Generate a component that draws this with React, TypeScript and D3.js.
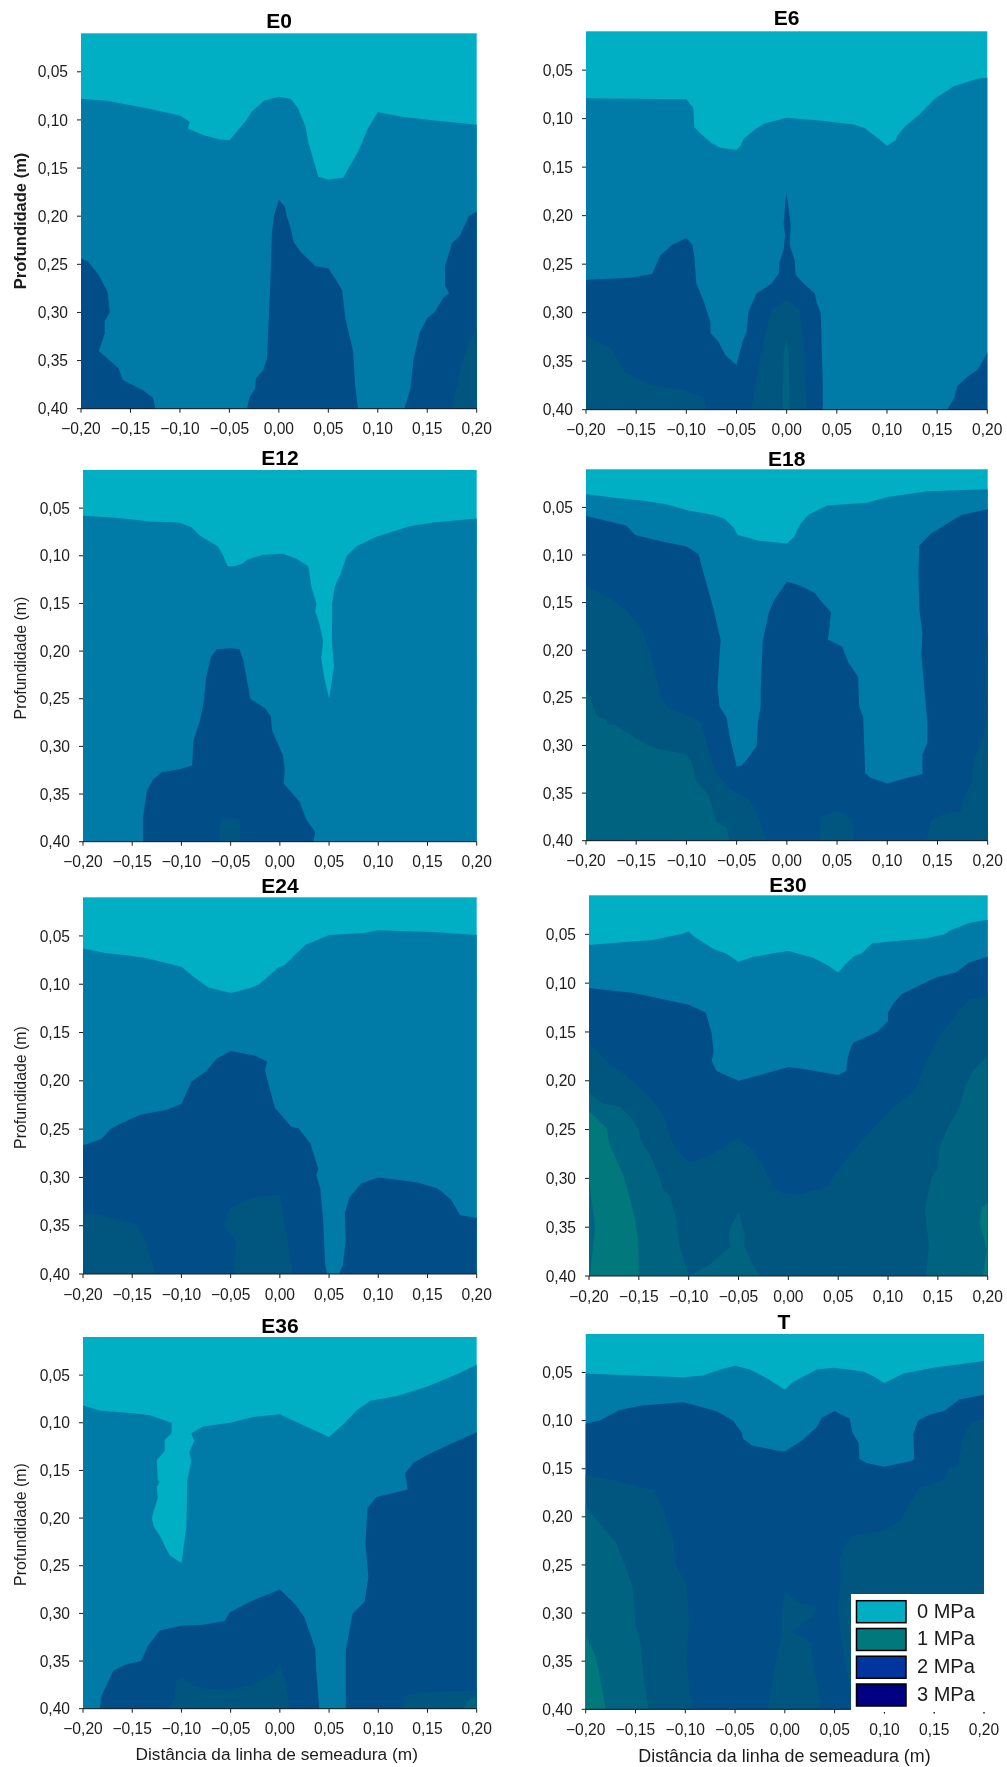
import React from "react";
import * as d3 from "d3";

type P = [number, number];

const xTicks = [-0.2, -0.15, -0.1, -0.05, 0, 0.05, 0.1, 0.15, 0.2];
const yTicks = [0.05, 0.1, 0.15, 0.2, 0.25, 0.3, 0.35, 0.4];
const legendLabels = ["0 MPa", "1 MPa", "2 MPa", "3 MPa"];
const legendColors = ["#00AFC3", "#00787C", "#0035A0", "#000080"];
const levelColors = ["#00AFC3", "#007BA7", "#004D87", "#00567F", "#006480", "#00787C"];

// ---- E0 ----
const e0L1: P[] = [[-.2,.078],[-.174,.08],[-.137,.087],[-.1,.0955],[-.09,.102],[-.092,.109],[-.076,.116],[-.06,.12],[-.05,.121],[-.04,.109],[-.034,.102],[-.027,.091],[-.015,.08],[0,.076],[.012,.078],[.019,.087],[.027,.107],[.03,.124],[.04,.159],[.05,.162],[.065,.16],[.08,.133],[.09,.109],[.1,.092],[.126,.097],[.153,.1],[.2,.105]];
const e0L2a: P[] = [[-.2,.244],[-.193,.247],[-.182,.261],[-.173,.279],[-.172,.289],[-.171,.3],[-.176,.309],[-.176,.322],[-.182,.34],[-.174,.347],[-.162,.358],[-.158,.37],[-.137,.381],[-.127,.389],[-.125,.4]];
const e0L2b: P[] = [[-.032,.4],[-.03,.389],[-.024,.379],[-.023,.368],[-.016,.36],[-.012,.348],[-.009,.28],[-.007,.218],[-.005,.2],[0,.183],[.006,.19],[.008,.2],[.012,.213],[.015,.227],[.022,.237],[.037,.252],[.05,.254],[.057,.265],[.064,.277],[.067,.305],[.075,.34],[.077,.374],[.08,.4]];
const e0L2c: P[] = [[.127,.4],[.133,.379],[.136,.35],[.142,.322],[.15,.306],[.158,.299],[.166,.285],[.172,.28],[.168,.272],[.168,.252],[.175,.228],[.183,.22],[.192,.2],[.2,.195]];
const e0L3: P[] = [[.175,.4],[.183,.36],[.192,.332],[.2,.317]];

// ---- E6 ----
const e6L1: P[] = [[-.2,.079],[-.1,.08],[-.093,.089],[-.092,.109],[-.085,.116],[-.075,.125],[-.066,.13],[-.05,.132],[-.046,.128],[-.043,.121],[-.033,.112],[-.022,.105],[0,.099],[.033,.102],[.067,.106],[.078,.11],[.092,.121],[.1,.128],[.109,.122],[.11,.118],[.118,.108],[.132,.096],[.147,.08],[.166,.067],[.19,.059],[.2,.058]];
const e6L2a: P[] = [[-.2,.266],[-.155,.264],[-.134,.26],[-.126,.241],[-.114,.23],[-.1,.223],[-.094,.23],[-.092,.242],[-.09,.27],[-.082,.29],[-.076,.31],[-.076,.321],[-.068,.33],[-.061,.344],[-.05,.354],[-.044,.33],[-.04,.32],[-.038,.299],[-.03,.28],[-.015,.27],[-.008,.26],[-.007,.248],[-.003,.235],[-.0015,.22],[-.003,.209],[-.001,.182],[0,.178],[.001,.185],[.004,.209],[.003,.23],[.008,.246],[.009,.261],[.017,.27],[.028,.28],[.03,.29],[.034,.3],[.035,.339],[.036,.37],[.036,.4]];
const e6L2b: P[] = [[.16,.4],[.167,.388],[.17,.376],[.18,.366],[.19,.359],[.197,.347],[.2,.341]];
const e6L3a: P[] = [[-.2,.324],[-.176,.335],[-.161,.361],[-.14,.373],[-.103,.38],[-.083,.387],[-.08,.4]];
const e6L3b: P[] = [[-.035,.4],[-.03,.366],[-.023,.328],[-.015,.297],[0,.287],[.013,.297],[.018,.339],[.02,.4]];
const e6L4: P[] = [[-.004,.4],[-.003,.342],[0,.328],[.002,.342],[.003,.4]];

// ---- E12 ----
const e12L1: P[] = [[-.2,.058],[-.166,.06],[-.132,.064],[-.102,.065],[-.09,.07],[-.081,.079],[-.063,.09],[-.058,.099],[-.053,.111],[-.046,.111],[-.038,.108],[-.033,.104],[-.017,.099],[.003,.098],[.017,.103],[.029,.111],[.032,.132],[.037,.15],[.036,.158],[.04,.171],[.044,.19],[.042,.207],[.045,.227],[.05,.25],[.055,.216],[.053,.192],[.053,.15],[.056,.132],[.062,.118],[.068,.1],[.078,.09],[.098,.08],[.132,.069],[.156,.065],[.2,.061]];
const e12L2: P[] = [[-.139,.4],[-.139,.374],[-.135,.346],[-.129,.335],[-.12,.327],[-.102,.324],[-.089,.32],[-.088,.295],[-.081,.272],[-.077,.251],[-.075,.228],[-.07,.206],[-.064,.198],[-.05,.197],[-.041,.198],[-.037,.21],[-.03,.25],[-.015,.26],[-.009,.269],[-.008,.283],[.003,.309],[.005,.323],[.004,.339],[.02,.358],[.027,.377],[.036,.39],[.034,.4]];
const e12L3: P[] = [[-.062,.4],[-.06,.377],[-.051,.375],[-.041,.377],[-.04,.4]];

// ---- E18 ----
const e18L1: P[] = [[-.2,.036],[-.172,.04],[-.142,.043],[-.119,.047],[-.099,.053],[-.073,.058],[-.062,.062],[-.053,.071],[-.049,.079],[-.028,.085],[0,.088],[.007,.081],[.013,.068],[.021,.058],[.04,.048],[.08,.045],[.1,.039],[.14,.033],[.2,.031]];
const e18L2: P[] = [[-.2,.059],[-.16,.069],[-.151,.079],[-.123,.086],[-.1,.091],[-.088,.099],[-.083,.119],[-.073,.157],[-.066,.189],[-.069,.238],[-.067,.259],[-.06,.271],[-.057,.29],[-.05,.322],[-.045,.321],[-.037,.311],[-.03,.3],[-.029,.277],[-.026,.259],[-.026,.241],[-.024,.19],[-.018,.161],[-.013,.148],[0,.128],[.013,.132],[.028,.14],[.033,.147],[.044,.16],[.041,.189],[.055,.196],[.061,.212],[.071,.228],[.072,.259],[.076,.27],[.078,.329],[.083,.334],[.1,.34],[.113,.336],[.135,.33],[.135,.31],[.14,.297],[.14,.276],[.137,.241],[.134,.206],[.135,.182],[.132,.157],[.131,.119],[.132,.09],[.143,.078],[.161,.066],[.174,.058],[.2,.052]];
const e18L3a: P[] = [[-.2,.132],[-.172,.148],[-.157,.161],[-.144,.178],[-.134,.21],[-.126,.248],[-.118,.26],[-.1,.268],[-.085,.276],[-.078,.305],[-.07,.329],[-.055,.347],[-.037,.357],[-.028,.375],[-.02,.4]];
const e18L3b: P[] = [[.032,.4],[.034,.375],[.05,.369],[.065,.376],[.067,.4]];
const e18L3c: P[] = [[.139,.4],[.144,.378],[.159,.371],[.173,.369],[.176,.354],[.184,.338],[.186,.315],[.195,.294],[.199,.266],[.197,.206],[.199,.189],[.2,.186]];
const e18L4: P[] = [[-.2,.24],[-.189,.269],[-.18,.273],[-.178,.278],[-.17,.279],[-.157,.288],[-.138,.3],[-.128,.304],[-.1,.309],[-.094,.32],[-.09,.338],[-.078,.352],[-.07,.38],[-.06,.387],[-.057,.4]];

// ---- E24 ----
const e24L1: P[] = [[-.2,.063],[-.176,.068],[-.155,.07],[-.135,.073],[-.1,.082],[-.088,.092],[-.073,.103],[-.05,.109],[-.03,.104],[-.021,.1],[-.002,.083],[.005,.08],[.015,.07],[.026,.059],[.05,.049],[.085,.047],[.1,.044],[.156,.046],[.2,.049]];
const e24L2a: P[] = [[-.2,.267],[-.181,.26],[-.172,.25],[-.163,.245],[-.142,.235],[-.115,.23],[-.1,.224],[-.09,.201],[-.075,.19],[-.064,.177],[-.05,.169],[-.025,.174],[-.013,.18],[-.015,.189],[-.012,.202],[-.005,.228],[.012,.248],[.019,.249],[.031,.265],[.039,.291],[.037,.298],[.041,.311],[.044,.344],[.046,.389],[.048,.4]];
const e24L2b: P[] = [[.06,.4],[.064,.391],[.067,.365],[.066,.337],[.071,.32],[.083,.306],[.1,.3],[.139,.305],[.159,.311],[.165,.315],[.174,.323],[.183,.339],[.2,.342]];
const e24L3a: P[] = [[-.2,.337],[-.183,.339],[-.146,.348],[-.136,.368],[-.126,.4]];
const e24L3b: P[] = [[-.046,.4],[-.045,.365],[-.057,.35],[-.05,.331],[-.024,.32],[0,.318],[.007,.358],[.013,.4]];

// ---- E30 ----
const e30L1: P[] = [[-.2,.061],[-.188,.06],[-.155,.057],[-.138,.056],[-.108,.05],[-.1,.047],[-.095,.052],[-.075,.065],[-.062,.07],[-.05,.078],[-.035,.073],[-.018,.07],[0,.067],[.025,.074],[.04,.082],[.05,.089],[.057,.081],[.065,.073],[.074,.069],[.084,.059],[.139,.054],[.157,.05],[.162,.046],[.182,.038],[.2,.035]];
const e30L2: P[] = [[-.2,.105],[-.155,.11],[-.1,.122],[-.083,.13],[-.077,.151],[-.075,.17],[-.077,.18],[-.072,.19],[-.05,.2],[-.028,.194],[0,.186],[.015,.188],[.05,.194],[.058,.19],[.059,.18],[.061,.171],[.065,.161],[.089,.15],[.1,.139],[.1,.13],[.106,.12],[.114,.111],[.136,.1],[.149,.094],[.168,.089],[.181,.079],[.2,.073]];
const e30L3: P[] = [[-.2,.161],[-.182,.18],[-.157,.199],[-.138,.218],[-.125,.235],[-.118,.259],[-.112,.271],[-.098,.284],[-.075,.274],[-.062,.266],[-.05,.259],[-.035,.271],[-.025,.288],[-.015,.31],[-.005,.315],[.012,.316],[.04,.308],[.045,.298],[.065,.271],[.082,.252],[.102,.23],[.127,.209],[.132,.195],[.139,.178],[.152,.154],[.176,.122],[.182,.117],[.2,.113]];
const e30L4a: P[] = [[-.2,.212],[-.187,.223],[-.168,.227],[-.158,.238],[-.15,.25],[-.148,.262],[-.137,.279],[-.125,.312],[-.119,.318],[-.112,.343],[-.109,.37],[-.1,.4],[-.08,.389],[-.058,.37],[-.06,.36],[-.058,.35],[-.05,.335],[-.044,.356],[-.044,.37],[-.035,.39],[-.028,.4]];
const e30L4b: P[] = [[.138,.4],[.141,.37],[.137,.332],[.144,.298],[.15,.289],[.152,.267],[.159,.25],[.172,.226],[.177,.206],[.186,.189],[.2,.175]];
const e30L5a: P[] = [[-.2,.231],[-.182,.249],[-.18,.264],[-.165,.298],[-.155,.336],[-.151,.36],[-.15,.4]];
const e30L5b: P[] = [[.2,.325],[.194,.33],[.192,.345],[.199,.373],[.195,.4]];
const e30L4c: P[] = [[-.2,.3],[-.194,.35],[-.199,.4]];

// ---- E36 ----
const e36L1: P[] = [[-.2,.082],[-.183,.087],[-.149,.09],[-.132,.092],[-.11,.1],[-.11,.111],[-.117,.118],[-.117,.13],[-.125,.139],[-.124,.16],[-.122,.162],[-.125,.167],[-.124,.179],[-.128,.192],[-.13,.2],[-.128,.209],[-.121,.22],[-.117,.229],[-.112,.239],[-.1,.247],[-.095,.209],[-.094,.16],[-.09,.14],[-.092,.131],[-.087,.119],[-.09,.111],[-.078,.104],[-.051,.1],[-.027,.094],[0,.091],[.014,.098],[.05,.115],[.065,.101],[.078,.087],[.092,.077],[.119,.072],[.15,.062],[.18,.049],[.2,.039]];
const e36L2a: P[] = [[-.183,.4],[-.181,.386],[-.169,.36],[-.157,.354],[-.141,.35],[-.134,.334],[-.122,.318],[-.1,.313],[-.078,.312],[-.056,.308],[-.051,.299],[-.031,.288],[0,.275],[.015,.29],[.025,.304],[.036,.337],[.037,.36],[.04,.4]];
const e36L2b: P[] = [[.067,.4],[.067,.339],[.074,.3],[.086,.288],[.09,.262],[.087,.227],[.089,.19],[.098,.178],[.13,.17],[.127,.153],[.136,.142],[.151,.133],[.18,.119],[.2,.11]];
const e36L3a: P[] = [[-.112,.4],[-.107,.388],[-.105,.37],[-.098,.368],[-.085,.377],[-.054,.381],[-.027,.374],[-.005,.362],[0,.351],[.007,.377],[.01,.4]];
const e36L3b: P[] = [[.125,.4],[.128,.386],[.156,.382],[.2,.381]];
const e36L4: P[] = [[.186,.4],[.193,.39],[.2,.388]];

// ---- T ----
const tL1: P[] = [[-.2,.051],[-.152,.053],[-.102,.055],[-.082,.053],[-.065,.047],[-.05,.043],[-.035,.047],[-.018,.056],[0,.068],[.008,.06],[.032,.047],[.049,.045],[.079,.049],[.089,.054],[.1,.061],[.119,.051],[.149,.045],[.2,.038]];
const tL2: P[] = [[-.2,.103],[-.186,.1],[-.166,.089],[-.142,.084],[-.102,.081],[-.069,.09],[-.052,.1],[-.043,.113],[-.042,.119],[-.032,.126],[-.008,.131],[0,.132],[.017,.121],[.032,.107],[.037,.097],[.05,.09],[.065,.098],[.068,.113],[.074,.123],[.075,.14],[.082,.144],[.1,.148],[.127,.142],[.13,.14],[.129,.114],[.134,.1],[.145,.094],[.16,.09],[.175,.078],[.2,.073]];
const tL3a: P[] = [[-.2,.156],[-.172,.162],[-.132,.172],[-.122,.193],[-.112,.224],[-.109,.25],[-.099,.27],[-.096,.307],[-.099,.352],[-.095,.38],[-.093,.4]];
const tL3b: P[] = [[-.017,.4],[-.012,.366],[-.003,.32],[-.003,.3],[0,.278],[.015,.29],[.032,.293],[.027,.304],[.007,.32],[.027,.33],[.029,.356],[.034,.38],[.035,.4]];
const tL3c: P[] = [[.069,.4],[.062,.359],[.056,.325],[.053,.293],[.056,.262],[.055,.243],[.059,.231],[.067,.22],[.099,.214],[.117,.203],[.124,.188],[.135,.17],[.161,.16],[.165,.15],[.174,.146],[.179,.116],[.187,.102],[.2,.098]];
const tL4: P[] = [[-.2,.189],[-.182,.212],[-.17,.226],[-.16,.252],[-.153,.272],[-.15,.311],[-.145,.332],[-.142,.366],[-.137,.4]];
const tL5: P[] = [[-.2,.323],[-.19,.345],[-.185,.37],[-.18,.4]];

interface Panel {
  title: string;
  bold?: boolean;
  layers: [number, P[]][];
  left: number; right: number; top: number; bottom: number;
  titleX: number; titleY: number;
  yTitleY?: number;
  xTitle?: [number, number, number];
}

const panels: Panel[] = [
  { title: "E0", bold: true, layers: [[1,e0L1],[2,e0L2a],[2,e0L2b],[2,e0L2c],[3,e0L3]],
    left: 81, right: 476.7, top: 33.3, bottom: 408.7, titleX: 279, titleY: 28, yTitleY: 221 },
  { title: "E6", layers: [[1,e6L1],[2,e6L2a],[2,e6L2b],[3,e6L3a],[3,e6L3b],[4,e6L4]],
    left: 586, right: 987.3, top: 31.3, bottom: 409.7, titleX: 786.7, titleY: 25 },
  { title: "E12", layers: [[1,e12L1],[2,e12L2],[3,e12L3]],
    left: 83, right: 476.7, top: 470, bottom: 841.7, titleX: 280, titleY: 465, yTitleY: 658 },
  { title: "E18", layers: [[1,e18L1],[2,e18L2],[3,e18L3a],[3,e18L3b],[3,e18L3c],[4,e18L4]],
    left: 586, right: 987.7, top: 469.3, bottom: 840.7, titleX: 786.7, titleY: 466 },
  { title: "E24", layers: [[1,e24L1],[2,e24L2a],[2,e24L2b],[3,e24L3a],[3,e24L3b]],
    left: 83, right: 476.7, top: 897.3, bottom: 1274, titleX: 280, titleY: 892.7, yTitleY: 1087.5 },
  { title: "E30", layers: [[1,e30L1],[2,e30L2],[3,e30L3],[4,e30L4a],[4,e30L4b],[5,e30L5a],[5,e30L5b],[4,e30L4c]],
    left: 589, right: 987.7, top: 895.3, bottom: 1276, titleX: 788, titleY: 891.7 },
  { title: "E36", layers: [[1,e36L1],[2,e36L2a],[2,e36L2b],[3,e36L3a],[3,e36L3b],[4,e36L4]],
    left: 83, right: 476.7, top: 1337, bottom: 1708.7, titleX: 280, titleY: 1332.7, yTitleY: 1524.5, xTitle: [276.7, 1759.7, 17.3] },
  { title: "T", layers: [[1,tL1],[2,tL2],[3,tL3a],[3,tL3b],[3,tL3c],[4,tL4],[5,tL5]],
    left: 585.7, right: 984, top: 1334, bottom: 1709.3, titleX: 784, titleY: 1329, xTitle: [784.5, 1761.7, 17.9] },
];

const FONT = "'Liberation Sans', Arial, sans-serif";
const INK = "#1c1c1c";
const fmt = (v: number) => d3.format(".2f")(v).replace(".", ",");

function PanelView({ p }: { p: Panel }) {
  const x = d3.scaleLinear().domain([-0.2, 0.2]).range([p.left, p.right]);
  const y = d3.scaleLinear().domain([0.01, 0.4]).range([p.top, p.bottom]);
  const line = d3.line<P>().x((d) => x(d[0])).y((d) => y(d[1]));
  const close = (pts: P[]): P[] => [...pts, [pts[pts.length - 1][0], 0.4], [pts[0][0], 0.4]];
  return (
    <g fontFamily={FONT} fill={INK}>
      <rect x={p.left} y={p.top} width={p.right - p.left} height={p.bottom - p.top} fill={levelColors[0]} />
      {p.layers.map(([lvl, pts], i) => (
        <path key={i} d={line(close(pts)) + "Z"} fill={levelColors[lvl]} />
      ))}
      <line x1={p.left} x2={p.right} y1={p.bottom} y2={p.bottom} stroke={INK} />
      {xTicks.map((t) => (
        <g key={t}>
          <line x1={x(t)} x2={x(t)} y1={p.bottom} y2={p.bottom + 4} stroke={INK} />
          <text x={x(t)} y={p.bottom + 25.5} textAnchor="middle" fontSize={15.6}>{fmt(t)}</text>
        </g>
      ))}
      {yTicks.map((t) => (
        <g key={t}>
          <line x1={p.left - 4} x2={p.left} y1={y(t)} y2={y(t)} stroke={INK} />
          <text x={p.left - 13} y={y(t) + 5.6} textAnchor="end" fontSize={15.6}>{fmt(t)}</text>
        </g>
      ))}
      <text x={p.titleX} y={p.titleY} textAnchor="middle" fontSize={21} fontWeight="bold" fill="#000">{p.title}</text>
      {p.yTitleY !== undefined && (
        <text transform={`translate(26,${p.yTitleY}) rotate(-90)`} textAnchor="middle"
          fontSize={p.bold ? 16.5 : 15.9} fontWeight={p.bold ? "bold" : "normal"}>Profundidade (m)</text>
      )}
      {p.xTitle && (
        <text x={p.xTitle[0]} y={p.xTitle[1]} textAnchor="middle" fontSize={p.xTitle[2]}>Distância da linha de semeadura (m)</text>
      )}
    </g>
  );
}

function Legend() {
  const rowY = d3.scaleLinear().domain([0, 3]).range([1600.7, 1684]);
  return (
    <g fontFamily={FONT}>
      <rect x={851} y={1594} width={140} height={118} fill="#fff" />
      {legendLabels.map((l, i) => (
        <g key={l}>
          <rect x={856.5} y={rowY(i)} width={49.5} height={22} fill={legendColors[i]} stroke="#000" strokeWidth={1.5} />
          <text x={917} y={rowY(i) + 17} fontSize={20} fill={INK}>{l}</text>
        </g>
      ))}
    </g>
  );
}

export default function App() {
  return (
    <svg width={1007} height={1767} style={{ position: "absolute", left: 0, top: 0, background: "#fff", filter: "blur(0.45px)" }}>
      {panels.map((p) => <PanelView key={p.title} p={p} />)}
      <Legend />
      {[0.1, 0.15, 0.2].map((t) => {
        const x = d3.scaleLinear().domain([-0.2, 0.2]).range([585.7, 984]);
        return <rect key={t} x={x(t) - 0.5} y={1712} width={1} height={1.5} fill={INK} />;
      })}
    </svg>
  );
}
